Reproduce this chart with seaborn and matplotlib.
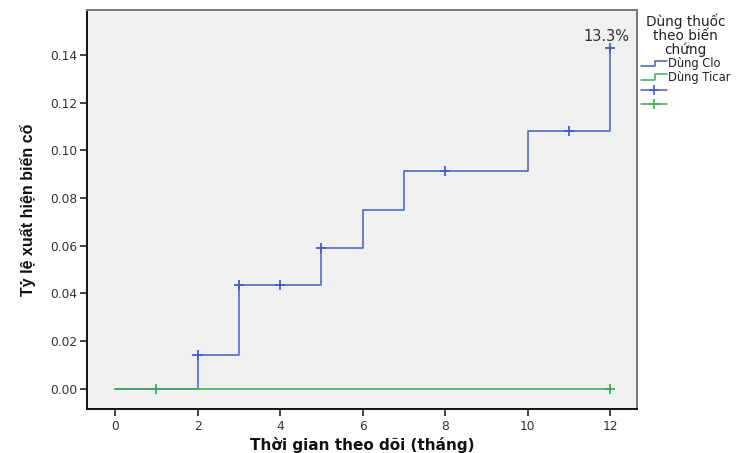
import numpy as np
import pandas as pd
import matplotlib
matplotlib.use("Agg")
import matplotlib.pyplot as plt
import seaborn as sns
from matplotlib.lines import Line2D
from matplotlib.legend_handler import HandlerBase

# Cumulative incidence (step values) per group
clo_time = [0, 2, 3, 5, 6, 7, 10, 12]
clo_rate = [0.0, 0.0143, 0.0435, 0.0591, 0.0750, 0.0912, 0.1080, 0.1430]
clo_cens_time = [2, 3, 4, 5, 8, 11, 12]
clo_cens_rate = [0.0143, 0.0435, 0.0435, 0.0591, 0.0912, 0.1080, 0.1430]

ticar_time = [0, 12]
ticar_rate = [0.0, 0.0]
ticar_cens_time = [1, 12]
ticar_cens_rate = [0.0, 0.0]

groups = ["Dùng Clo", "Dùng Ticar"]
end_label = "13.3%"

x_ticks = [0, 2, 4, 6, 8, 10, 12]
y_ticks = [0.00, 0.02, 0.04, 0.06, 0.08, 0.10, 0.12, 0.14]

BLUE = "#4660bd"
GREEN = "#3dae52"

sns.set_theme(style="white")
plt.rcParams["font.family"] = ["DejaVu Sans"]

steps = pd.concat([
    pd.DataFrame({"t": clo_time, "r": clo_rate, "g": groups[0]}),
    pd.DataFrame({"t": ticar_time, "r": ticar_rate, "g": groups[1]}),
])
cens = pd.concat([
    pd.DataFrame({"t": clo_cens_time, "r": clo_cens_rate, "g": groups[0]}),
    pd.DataFrame({"t": ticar_cens_time, "r": ticar_cens_rate, "g": groups[1]}),
])
palette = {groups[0]: BLUE, groups[1]: GREEN}

fig = plt.figure(figsize=(7.41, 4.53), dpi=100)
ax = fig.add_axes([0.1174, 0.0971, 0.7422, 0.8809])
ax.set_facecolor("#f0f0f0")

sns.lineplot(data=steps, x="t", y="r", hue="g", palette=palette,
             drawstyle="steps-post", linewidth=1.1, ax=ax, legend=False,
             estimator=None, sort=False)
sns.scatterplot(data=cens, x="t", y="r", hue="g", palette=palette,
                marker="+", s=55, linewidth=1.3, ax=ax, legend=False)

ax.set_xlim(-0.68, 12.65)
ax.set_ylim(-0.0084, 0.1588)
ax.set_xticks(x_ticks)
ax.set_xticklabels([str(v) for v in x_ticks])
ax.set_yticks(y_ticks)
ax.set_yticklabels([f"{v:.2f}" for v in y_ticks])
ax.tick_params(axis="both", direction="out", length=5, width=1.2,
               color="#222222", labelsize=8.8, labelcolor="#333333", pad=2)
ax.tick_params(axis="x", pad=3)
ax.tick_params(left=True, bottom=True)

for side in ["left", "bottom"]:
    ax.spines[side].set_color("#111111")
    ax.spines[side].set_linewidth(1.4)
for side in ["top", "right"]:
    ax.spines[side].set_color("#777777")
    ax.spines[side].set_linewidth(1.4)

ax.set_xlabel("Thời gian theo dõi (tháng)", fontsize=11, fontweight="bold",
              color="#111111", labelpad=3)
ax.set_ylabel("Tỷ lệ xuất hiện biến cố", fontsize=11.5, fontweight="bold",
              family=["Liberation Sans Narrow", "Liberation Sans", "DejaVu Sans"],
              color="#111111", labelpad=10)

ax.annotate(end_label, xy=(clo_time[-1], clo_rate[-1]), xytext=(-3, 3),
            textcoords="offset points", ha="center", va="bottom",
            fontsize=10.5, color="#333333")


class StepHandler(HandlerBase):
    def create_artists(self, legend, orig_handle, xdescent, ydescent,
                       width, height, fontsize, trans):
        x0, x1 = -xdescent, -xdescent + width
        xm = x0 + width * 0.55
        ylo, yhi = -ydescent + height * 0.1, -ydescent + height * 0.8
        line = Line2D([x0, xm, xm, x1], [ylo, ylo, yhi, yhi],
                      color=orig_handle.get_color(), linewidth=1.1,
                      transform=trans)
        return [line]


class CensorHandler(HandlerBase):
    def create_artists(self, legend, orig_handle, xdescent, ydescent,
                       width, height, fontsize, trans):
        x0, x1 = -xdescent, -xdescent + width
        ym = -ydescent + height / 2
        line = Line2D([x0, x1], [ym, ym], color=orig_handle.get_color(),
                      linewidth=1.1, transform=trans)
        mark = Line2D([(x0 + x1) / 2], [ym], marker="+", markersize=7,
                      markeredgewidth=1.2, color=orig_handle.get_color(),
                      linestyle="none", transform=trans)
        return [line, mark]


class CensorLine(Line2D):
    pass


h_step = [Line2D([], [], color=BLUE), Line2D([], [], color=GREEN)]
h_cens = [CensorLine([], [], color=BLUE), CensorLine([], [], color=GREEN)]
leg = fig.legend(h_step + h_cens, groups + ["", ""],
                 title="Dùng thuốc\ntheo biến\nchứng",
                 loc="upper left", bbox_to_anchor=(0.863, 0.972),
                 frameon=False, fontsize=8.3, title_fontsize=9.8,
                 handlelength=2.3, handletextpad=0.1, labelspacing=0.05,
                 borderaxespad=0, borderpad=0.1,
                 handler_map={Line2D: StepHandler(), CensorLine: CensorHandler()})
leg.get_title().set_multialignment("center")
leg.get_title().set_linespacing(0.95)
leg.get_title().set_color("#222222")
for t in leg.get_texts():
    t.set_color("#222222")

fig.savefig("out.png", dpi=100)
